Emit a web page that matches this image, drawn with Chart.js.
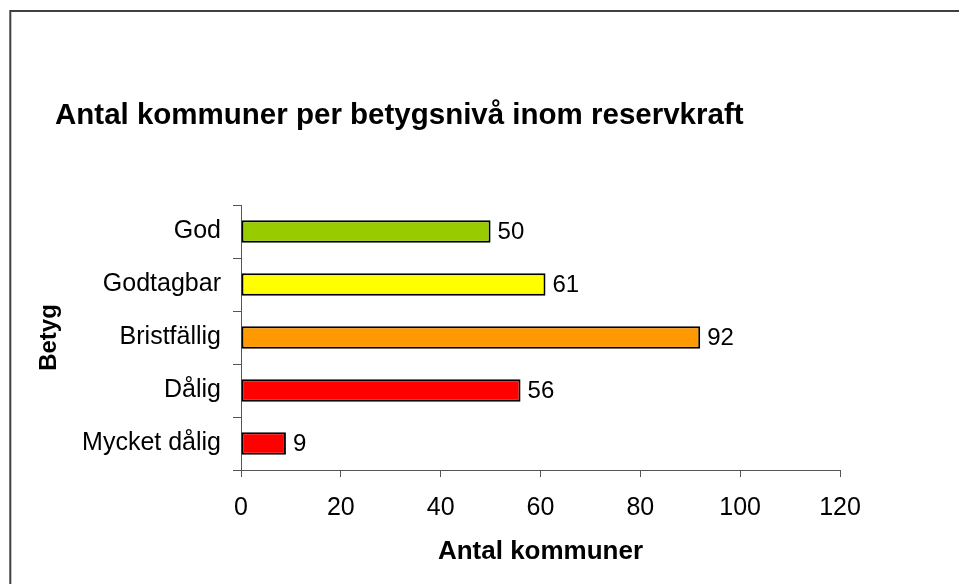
<!DOCTYPE html>
<html>
<head>
<meta charset="utf-8">
<script src="https://cdn.jsdelivr.net/npm/chart.js@4/dist/chart.umd.min.js"></script>
<style>
html,body{margin:0;padding:0;background:#fff;}
canvas{display:block;}
</style>
</head>
<body>
<canvas id="c" width="959" height="584"></canvas>
<script>
const chartTitle = "Antal kommuner per betygsnivå inom reservkraft";
const categories = ["God", "Godtagbar", "Bristfällig", "Dålig", "Mycket dålig"];
const values = [50, 61, 92, 56, 9];
const barColors = ["#99CC00", "#FFFF00", "#FF9900", "#FF0000", "#FF0000"];
const xTitle = "Antal kommuner";
const yTitle = "Betyg";
const xMin = 0, xMax = 120, xStep = 20;

const FONT = "Arial, 'Liberation Sans', sans-serif";

const framePlugin = {
  id: 'frame',
  beforeDraw(chart) {
    const ctx = chart.ctx;
    ctx.save();
    ctx.fillStyle = '#fff';
    ctx.fillRect(0, 0, chart.width, chart.height);
    ctx.strokeStyle = '#404040';
    ctx.lineWidth = 2;
    ctx.strokeRect(10.3, 11, chart.width + 20, chart.height + 20);
    ctx.restore();
  },
  afterDraw(chart) {
    const ctx = chart.ctx;
    ctx.save();
    ctx.fillStyle = '#000';
    ctx.font = "bold 29.5px " + FONT;
    ctx.textBaseline = 'alphabetic';
    ctx.textAlign = 'left';
    ctx.fillText(chartTitle, 55, 124);
    ctx.restore();
  }
};

const valueLabels = {
  id: 'valueLabels',
  afterDatasetsDraw(chart) {
    const ctx = chart.ctx;
    const meta = chart.getDatasetMeta(0);
    ctx.save();
    ctx.fillStyle = '#000';
    ctx.font = "24px " + FONT;
    ctx.textBaseline = 'middle';
    ctx.textAlign = 'left';
    meta.data.forEach((bar, i) => {
      ctx.fillText(String(values[i]), bar.x + 7, bar.y + 1);
    });
    ctx.restore();
  }
};

new Chart(document.getElementById('c'), {
  type: 'bar',
  data: {
    labels: categories,
    datasets: [{
      data: values,
      backgroundColor: barColors,
      borderColor: '#000',
      borderWidth: 2,
      borderSkipped: false,
      barPercentage: 0.42,
      categoryPercentage: 1.0
    }]
  },
  options: {
    indexAxis: 'y',
    responsive: false,
    animation: false,
    devicePixelRatio: 1,
    layout: { padding: { left: 0, right: 119, top: 205, bottom: 0 } },
    plugins: {
      legend: { display: false },
      tooltip: { enabled: false },
      title: { display: false }
    },
    scales: {
      x: {
        min: xMin, max: xMax,
        ticks: { stepSize: xStep, color: '#000', font: { size: 25, family: FONT }, padding: 16 },
        grid: { drawOnChartArea: false, drawTicks: true, tickLength: 7, color: '#555', tickColor: '#555' },
        border: { color: '#555', width: 1 },
        title: { display: true, text: xTitle, color: '#000', font: { size: 26, weight: 'bold', family: FONT }, padding: { top: 0, bottom: 17 } },
        afterFit(scale) { scale.height = 114; }
      },
      y: {
        ticks: { color: '#000', font: { size: 25, family: FONT }, padding: 12 },
        grid: { drawOnChartArea: false, drawTicks: true, tickLength: 8, color: '#555', tickColor: '#555', offset: true },
        border: { color: '#555', width: 1 },
        title: { display: true, text: yTitle, color: '#000', font: { size: 24, weight: 'bold', family: FONT }, padding: { top: 35, bottom: 0 } },
        afterFit(scale) { scale.width = 241; }
      }
    }
  },
  plugins: [framePlugin, valueLabels]
});
</script>
</body>
</html>
